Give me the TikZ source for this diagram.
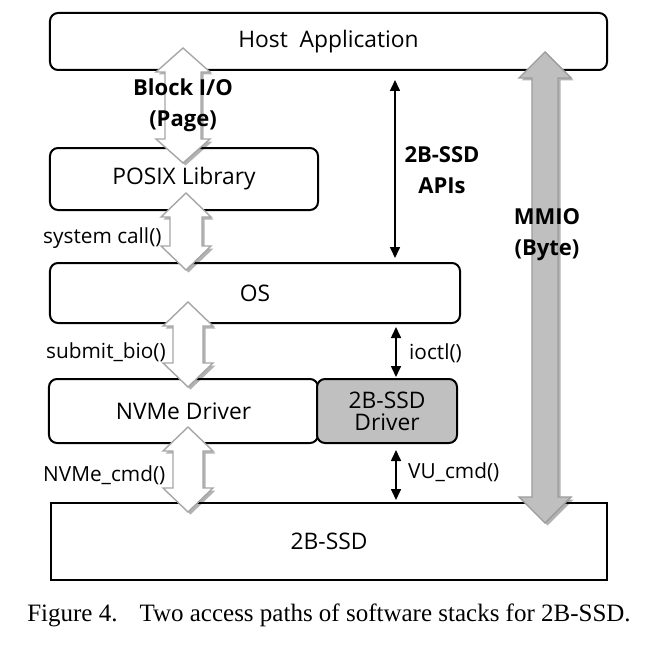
\documentclass[tikz,border=0pt]{standalone}
\usepackage{fontspec}
\newfontfamily\uifont{Open Sans}
\newfontfamily\capfont{Liberation Serif}
\usetikzlibrary{arrows.meta,shadows,calc}
\definecolor{drvgray}{HTML}{C0C0C0}
\definecolor{arrgray}{HTML}{A6A6A6}
\definecolor{mmiofill}{HTML}{BFBFBF}
\definecolor{mmioline}{HTML}{9C9C9C}
\newcommand\blockarr[6]{%
  \path[#6] let \p1=(#1), \p2=(#2) in
    (\x1,\y1) -- ({\x1+#3},{\y1-#5}) -- ({\x1+#4},{\y1-#5}) -- ({\x1+#4},{\y2+#5})
    -- ({\x1+#3},{\y2+#5}) -- (\x1,\y2) -- ({\x1-#3},{\y2+#5}) -- ({\x1-#4},{\y2+#5})
    -- ({\x1-#4},{\y1-#5}) -- ({\x1-#3},{\y1-#5}) -- cycle;}
\begin{document}
\begin{tikzpicture}[x=1bp,y=-1bp,
  box/.style={draw=black,line width=2bp,rounded corners=8bp,inner sep=0pt,
    font=\uifont\fontsize{22.8bp}{22bp}\selectfont},
  lab/.style={inner sep=0pt,font=\uifont\fontsize{20.8bp}{24bp}\selectfont},
  blab/.style={inner sep=0pt,align=center,font=\uifont\bfseries\fontsize{22bp}{31bp}\selectfont},
  thinarr/.style={line width=1.6bp,{Triangle[width=10bp,length=11bp]}-{Triangle[width=10bp,length=11bp]}},
  wshadow/.style={drop shadow={shadow xshift=2.5bp,shadow yshift=-2.5bp,fill=black,opacity=0.3}},
  whitearr/.style={draw=arrgray,line width=1.4bp,fill=white,line join=miter,wshadow},
  grayarr/.style={draw=mmioline,line width=1.4bp,fill=mmiofill,line join=miter,wshadow}]
\useasboundingbox (0,0) rectangle (656,654);
\fill[white] (0,0) rectangle (656,654);

% boxes
\node[box,minimum width=557bp,minimum height=57bp] (host) at (328.5,41.5) {\raisebox{-1.5bp}{Host\ \ Application}};
\node[box,minimum width=268bp,minimum height=62bp] (posix) at (184,179) {POSIX Library};
\node[box,minimum width=410bp,minimum height=60bp] (os) at (255,293) {\raisebox{-2bp}{OS}};
\node[box,minimum width=269bp,minimum height=64bp] (nvme) at (183.5,411) {NVMe Driver};
\node[box,fill=drvgray,align=center,minimum width=140bp,minimum height=64bp] (drv) at (387,411) {2B-SSD\\Driver};
\node[box,rounded corners=0pt,minimum width=556bp,minimum height=77bp] (ssd) at (329,541.5) {2B-SSD};

% block arrow end points
\coordinate (b1t) at (183,48);  \coordinate (b1b) at (183,163);
\coordinate (b2t) at (186,193); \coordinate (b2b) at (186,270);
\coordinate (b3t) at (188,302); \coordinate (b3b) at (188,387);
\coordinate (b4t) at (188,427); \coordinate (b4b) at (188,512);
\coordinate (mt) at (545,52);   \coordinate (mb) at (545,523);

\blockarr{b1t}{b1b}{27bp}{18bp}{24bp}{whitearr}
\blockarr{b2t}{b2b}{25bp}{16bp}{24bp}{whitearr}
\blockarr{b3t}{b3b}{25bp}{15bp}{24bp}{whitearr}
\blockarr{b4t}{b4b}{25bp}{15bp}{24bp}{whitearr}
\blockarr{mt}{mb}{26bp}{13bp}{26bp}{grayarr}

% thin arrows
\coordinate (a1) at (395,80);  \coordinate (a2) at (395,258);
\coordinate (i1) at (396,327); \coordinate (i2) at (396,377);
\coordinate (v1) at (396,450); \coordinate (v2) at (396,500);
\draw[thinarr] (a1) -- (a2);
\draw[thinarr] (i1) -- (i2);
\draw[thinarr] (v1) -- (v2);

% labels
\node[blab] (lblk) at (183,105) {Block I/O\\(Page)};
\node[blab] (lapi) at (442,170) {2B-SSD\\APIs};
\node[blab] (lmmio) at (547,235) {MMIO\\(Byte)};
\node[lab,anchor=west] (lsys) at (43,238) {system call()};
\node[lab,anchor=west] (lsub) at (46,352) {submit\_bio()};
\node[lab,anchor=west] (lnc) at (43,475) {NVMe\_cmd()};
\node[lab,anchor=west] (lio) at (409,353) {ioctl()};
\node[lab,anchor=west] (lvu) at (408,472) {VU\_cmd()};

% caption
\node[inner sep=0pt,anchor=base,font=\capfont\fontsize{25bp}{28bp}\selectfont] (cap) at (329,621)
  {Figure 4.\hspace{22bp}Two access paths of software stacks for 2B-SSD.};
\end{tikzpicture}
\end{document}
